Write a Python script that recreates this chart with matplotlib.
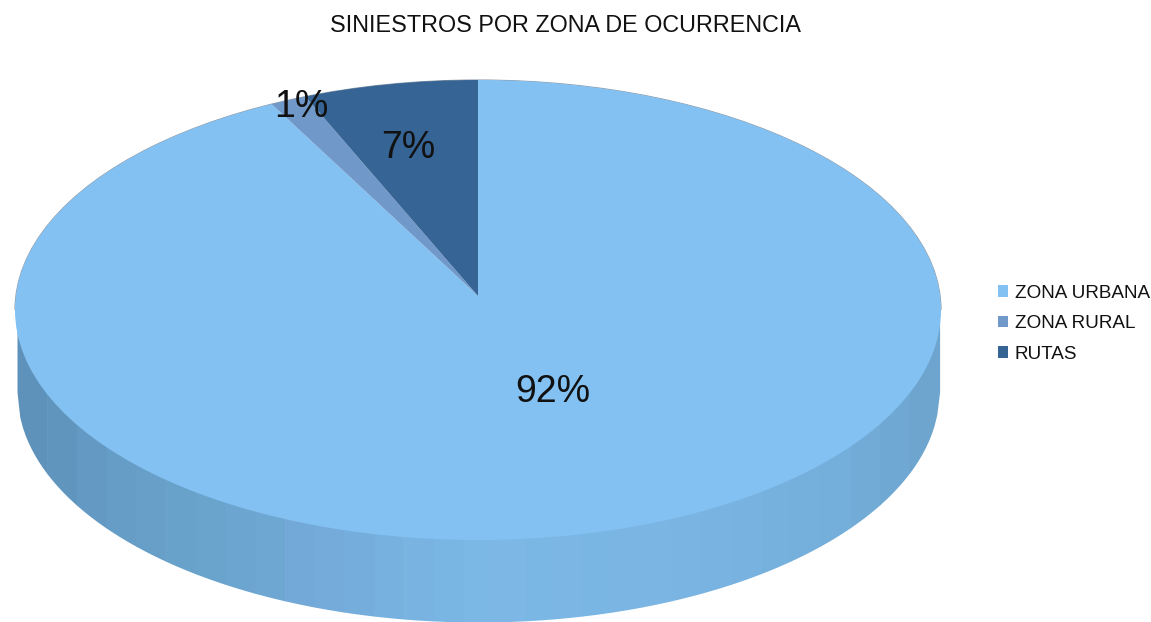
import numpy as np
import matplotlib
matplotlib.use('Agg')
import matplotlib.pyplot as plt
from matplotlib.colors import LinearSegmentedColormap
from matplotlib.patches import Ellipse, Arc

plt.rcParams['font.family'] = ['Liberation Sans', 'DejaVu Sans']

title = 'SINIESTROS POR ZONA DE OCURRENCIA'
zones = ['ZONA URBANA', 'ZONA RURAL', 'RUTAS']
shares = [91.8, 1.4, 6.8]
colors = ['#83c1f3', '#7099c9', '#356495']
label_pos = [(553, 392), (301, 107), (408, 148)]

W, H = 1151, 622
# top face of the pie, in pixels
cx, cy, rx, ry = 478, 310, 463, 230
depth = 82
# apex sits above the ellipse centre because of the perspective
apex_x, apex_y = 478, 296
sx, sy = 480, 252.6

fig = plt.figure(figsize=(W / 100, H / 100), dpi=100)

# pixel axes for the side wall and the text
ax_px = fig.add_axes([0, 0, 1, 1], zorder=1)
ax_px.set_xlim(0, W)
ax_px.set_ylim(H, 0)
ax_px.axis('off')

wall_cmap = LinearSegmentedColormap.from_list('wall', [
    (0.0, '#5e92ba'), (0.1, '#659dc6'), (0.22, '#6ba4cd'), (0.3, '#72a9d8'),
    (0.5, '#7cb8e6'), (0.75, '#79b4e3'), (0.9, '#74aeda'), (1.0, '#6da5cf')])
strips = np.linspace(17, 939, 32)
for i in range(len(strips) - 1):
    xs = np.linspace(strips[i], strips[i + 1] + 0.6, 12)
    bottom = cy + depth + ry * np.sqrt(np.clip(1 - ((xs - cx) / 461) ** 2, 0, 1))
    ax_px.fill_between(xs, cy, bottom, color=wall_cmap(i / (len(strips) - 2)), linewidth=0)

ax_px.add_patch(Arc((cx, cy), 2 * rx, 2 * ry, theta1=180, theta2=360,
                    color='#8f9ba6', linewidth=0.8))

ax_px.text(566, 26, title, ha='center', va='center', fontsize=16.8, color='#111111')

# pie axes, flattened and clipped to the top face
ax = fig.add_axes([0, 0, 1, 1], zorder=2)
ax.patch.set_alpha(0)
wedges, texts, autotexts = ax.pie(shares, colors=colors, startangle=90, counterclock=False,
                                  radius=1.2, autopct='%.0f%%', wedgeprops={'linewidth': 0})
ax.set_aspect('auto')
ax.set_xlim((0 - apex_x) / sx, (W - apex_x) / sx)
ax.set_ylim((apex_y - H) / sy, apex_y / sy)

face = Ellipse((0, (apex_y - cy) / sy), 2 * rx / sx, 2 * ry / sy, facecolor='none', edgecolor='none')
ax.add_patch(face)
for w in wedges:
    w.set_clip_on(True)
    w.set_clip_path(face)

for t, pos in zip(autotexts, label_pos):
    t.set_transform(ax_px.transData)
    t.set_position(pos)
    t.set_fontsize(27)
    t.set_color('#111111')

ax.legend(wedges, zones, loc='upper left', bbox_to_anchor=(998 / W, 1 - 284.5 / H),
          bbox_transform=fig.transFigure, frameon=False, fontsize=13.6,
          handlelength=0.53, handleheight=0.55, handletextpad=0.37, labelspacing=0.72,
          borderpad=0, borderaxespad=0, labelcolor='#111111')

fig.savefig('out.png', dpi=100)
plt.close(fig)
